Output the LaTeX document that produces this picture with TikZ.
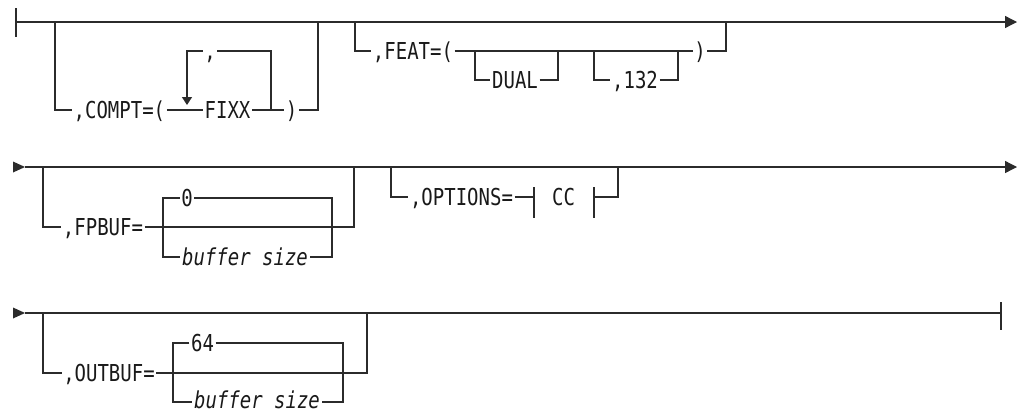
\documentclass[tikz,border=0pt]{standalone}
\usepackage{fontspec}
\newfontfamily\dmono[FakeStretch=0.815]{DejaVu Sans Mono}
\usetikzlibrary{arrows.meta}
\definecolor{linec}{HTML}{2B2B2B}
\tikzset{
  rr/.style={line width=1.3pt, draw=linec},
  lbl/.style={inner xsep=1.5pt, inner ysep=0pt, text height=17pt, text depth=0pt,
              font=\dmono\fontsize{23.3}{23.3}\selectfont, text=black!90},
  endarrow/.style={-{Triangle[length=12pt,width=12pt]}},
  downarrow/.style={-{Triangle[length=8pt,width=10pt]}},
}
\begin{document}
\begin{tikzpicture}[x=1pt,y=-1pt]
\useasboundingbox (0,0) rectangle (1024,413);

% ---------------- Row 1 ----------------
\coordinate (s1t) at (16,8);
\coordinate (s1b) at (16,37);
\coordinate (s1) at (16,22);
\coordinate (e1) at (1017,22);
\draw[rr] (s1t) -- (s1b);
\draw[rr,endarrow] (s1) -- (e1);

% COMPT branch
\coordinate (a1) at (55,22);
\coordinate (a2) at (318,22);
\node[lbl,anchor=west] (compt) at (72,110) {,COMPT=(};
\node[lbl] (fixx) at (227.5,110) {FIXX};
\node[lbl] (rp1) at (291.5,110) {)};
\node[lbl] (cm1) at (210,51) {,};
\draw[rr] (a1) |- (compt.west);
\draw[rr] (compt.east) -- (fixx.west);
\draw[rr] (fixx.east) -- (rp1.west);
\draw[rr] (rp1.east) -| (a2);
\coordinate (l1) at (271,110);
\coordinate (l2) at (187,105);
\draw[rr] (l1) |- (cm1.east);
\draw[rr,downarrow] (cm1.west) -| (l2);

% FEAT branch
\coordinate (b1) at (355,22);
\coordinate (b2) at (726,22);
\node[lbl] (feat) at (413,51) {,FEAT=(};
\node[lbl] (rp2) at (700,51) {)};
\draw[rr] (b1) |- (feat.west);
\draw[rr] (feat.east) -- (rp2.west);
\draw[rr] (rp2.east) -| (b2);
\coordinate (d1) at (475,51);
\coordinate (d2) at (558,51);
\node[lbl] (dual) at (515,80) {DUAL};
\draw[rr] (d1) |- (dual.west);
\draw[rr] (dual.east) -| (d2);
\coordinate (f1) at (594,51);
\coordinate (f2) at (678,51);
\node[lbl] (n132) at (635,80) {,132};
\draw[rr] (f1) |- (n132.west);
\draw[rr] (n132.east) -| (f2);

% ---------------- Row 2 ----------------
\fill[linec] (13,161.5) -- (25,167) -- (13,172.5) -- cycle;
\coordinate (s2) at (25,167);
\coordinate (e2) at (1017,167);
\draw[rr,endarrow] (s2) -- (e2);

% FPBUF branch
\coordinate (g1) at (43,167);
\coordinate (g2) at (354,167);
\node[lbl] (fpbuf) at (103,227) {,FPBUF=};
\draw[rr] (g1) |- (fpbuf.west);
\draw[rr] (fpbuf.east) -| (g2);
\coordinate (h2) at (163,257);
\coordinate (h4) at (332,257);
\node[lbl] (zero) at (187,198) {0};
\node[lbl] (bs1) at (245,257) {\itshape buffer size};
\draw[rr] (zero.west) -| (h2) -- (bs1.west);
\draw[rr] (zero.east) -| (h4) -- (bs1.east);

% OPTIONS branch
\coordinate (o1) at (391,167);
\coordinate (o2) at (618,167);
\node[lbl] (opts) at (461.5,197) {,OPTIONS=};
\node[lbl] (cc) at (563.5,197) {CC};
\coordinate (p1) at (534,197);
\coordinate (p1t) at (534,187);
\coordinate (p1b) at (534,218);
\coordinate (p2) at (594,197);
\coordinate (p2t) at (594,187);
\coordinate (p2b) at (594,218);
\draw[rr] (o1) |- (opts.west);
\draw[rr] (opts.east) -- (p1);
\draw[rr] (p1t) -- (p1b);
\draw[rr] (p2t) -- (p2b);
\draw[rr] (p2) -| (o2);

% ---------------- Row 3 ----------------
\fill[linec] (13,307.5) -- (25,313) -- (13,318.5) -- cycle;
\coordinate (s3) at (25,313);
\coordinate (e3) at (1001,313);
\coordinate (e3t) at (1001,302);
\coordinate (e3b) at (1001,330);
\draw[rr] (s3) -- (e3);
\draw[rr] (e3t) -- (e3b);

% OUTBUF branch
\coordinate (k1) at (43,313);
\coordinate (k2) at (367,313);
\node[lbl] (outbuf) at (109,373) {,OUTBUF=};
\draw[rr] (k1) |- (outbuf.west);
\draw[rr] (outbuf.east) -| (k2);
\coordinate (m2) at (173,402);
\coordinate (m4) at (343,402);
\node[lbl] (n64) at (202.5,343) {64};
\node[lbl] (bs2) at (257,399.5) {\itshape buffer size};
\draw[rr] (n64.west) -| (m2) -- (bs2.west |- m2);
\draw[rr] (n64.east) -| (m4) -- (bs2.east |- m4);
\end{tikzpicture}
\end{document}
